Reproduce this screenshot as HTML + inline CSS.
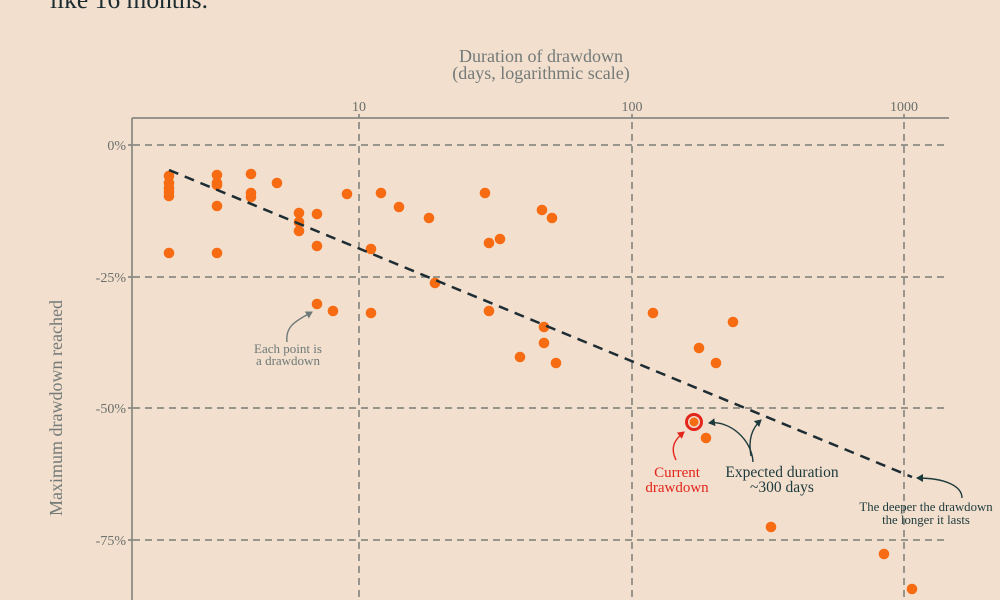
<!DOCTYPE html>
<html><head><meta charset="utf-8"><style>
html,body{margin:0;padding:0;background:#f2dfce;}
svg{display:block;font-family:"Liberation Serif",serif;}
</style></head><body>
<svg width="1000" height="600" viewBox="0 0 1000 600" xmlns="http://www.w3.org/2000/svg">
<rect width="1000" height="600" fill="#f2dfce"/>
<text x="50" y="8" font-size="25.5" fill="#1b2a2f">like 16 months.</text>
<text x="541" y="62" font-size="18" fill="#737a78" text-anchor="middle">Duration of drawdown</text>
<text x="541" y="79" font-size="18" fill="#737a78" text-anchor="middle">(days, logarithmic scale)</text>
<text transform="translate(62,408) rotate(-90)" font-size="18" fill="#737a78" text-anchor="middle">Maximum drawdown reached</text>
<g font-size="14" fill="#6b706b" text-anchor="middle">
<text x="359" y="111">10</text><text x="632" y="111">100</text><text x="904" y="111">1000</text>
</g>
<g font-size="14" fill="#6b706b" text-anchor="end">
<text x="126" y="150">0%</text><text x="126" y="282">-25%</text><text x="126" y="413">-50%</text><text x="126" y="545">-75%</text>
</g>
<g stroke="#7b7d76" stroke-width="1.5" fill="none">
<path d="M132 118H949M132 118V600"/>
<path d="M128 145H132M128 277H132M128 408H132M128 540H132M359 114V118M632 114V118M904 114V118"/>
<g stroke-dasharray="7 5">
<path d="M133 145H949M133 277H949M133 408H949M133 540H949"/>
<path d="M359 122V600M632 122V600M904 122V600"/>
</g>
</g>
<g fill="#f76b12">
<circle cx="169" cy="176" r="5.3"/><circle cx="169" cy="183" r="5.3"/><circle cx="169" cy="188" r="5.3"/><circle cx="169" cy="192" r="5.3"/><circle cx="169" cy="196" r="5.3"/><circle cx="169" cy="253" r="5.3"/>
<circle cx="217" cy="175" r="5.3"/><circle cx="217" cy="183" r="5.3"/><circle cx="217" cy="185" r="5.3"/><circle cx="217" cy="206" r="5.3"/><circle cx="217" cy="253" r="5.3"/>
<circle cx="251" cy="174" r="5.3"/><circle cx="251" cy="193" r="5.3"/><circle cx="251" cy="197" r="5.3"/>
<circle cx="277" cy="183" r="5.3"/>
<circle cx="299" cy="213" r="5.3"/><circle cx="299" cy="222" r="5.3"/><circle cx="299" cy="231" r="5.3"/>
<circle cx="317" cy="214" r="5.3"/><circle cx="317" cy="246" r="5.3"/>
<circle cx="347" cy="194" r="5.3"/><circle cx="381" cy="193" r="5.3"/><circle cx="399" cy="207" r="5.3"/><circle cx="371" cy="249" r="5.3"/>
<circle cx="317" cy="304" r="5.3"/><circle cx="333" cy="311" r="5.3"/><circle cx="371" cy="313" r="5.3"/>
<circle cx="429" cy="218" r="5.3"/><circle cx="485" cy="193" r="5.3"/><circle cx="542" cy="210" r="5.3"/><circle cx="552" cy="218" r="5.3"/>
<circle cx="489" cy="243" r="5.3"/><circle cx="500" cy="239" r="5.3"/><circle cx="435" cy="283" r="5.3"/>
<circle cx="489" cy="311" r="5.3"/><circle cx="544" cy="327" r="5.3"/><circle cx="544" cy="343" r="5.3"/><circle cx="520" cy="357" r="5.3"/><circle cx="556" cy="363" r="5.3"/>
<circle cx="653" cy="313" r="5.3"/><circle cx="733" cy="322" r="5.3"/><circle cx="699" cy="348" r="5.3"/><circle cx="716" cy="363" r="5.3"/>
<circle cx="706" cy="438" r="5.3"/><circle cx="771" cy="527" r="5.3"/><circle cx="884" cy="554" r="5.3"/><circle cx="912" cy="589" r="5.3"/>
</g>
<circle cx="694" cy="422" r="7.5" fill="#f2dfce" stroke="#e3261c" stroke-width="3"/>
<circle cx="694" cy="422" r="4.5" fill="#f76b12"/>
<path d="M169 170L912 477" stroke="#1e2d33" stroke-width="2.5" stroke-dasharray="10 7" fill="none"/>
<defs>
<marker id="ag" markerWidth="8" markerHeight="8" refX="6" refY="4" orient="auto" markerUnits="userSpaceOnUse"><path d="M0 0L7 4L0 8Z" fill="#6e7a78"/></marker>
<marker id="ar" markerWidth="8" markerHeight="8" refX="6" refY="4" orient="auto" markerUnits="userSpaceOnUse"><path d="M0 0L7 4L0 8Z" fill="#e3261c"/></marker>
<marker id="ad" markerWidth="8" markerHeight="8" refX="6" refY="4" orient="auto" markerUnits="userSpaceOnUse"><path d="M0 0L7 4L0 8Z" fill="#1d3a3d"/></marker>
</defs>
<g fill="none" stroke-width="1.4">
<path d="M287 342C285 325 298 320 312 312" stroke="#6e7a78" marker-end="url(#ag)"/>
<path d="M676 460C670 448 674 440 684 432" stroke="#e3261c" marker-end="url(#ar)"/>
<path d="M753 462C752 440 730 420 709 423" stroke="#1d3a3d" marker-end="url(#ad)"/>
<path d="M751 456C748 440 752 428 761 420" stroke="#1d3a3d" marker-end="url(#ad)"/>
<path d="M962 498C962 486 945 478 917 478" stroke="#1d3a3d" marker-end="url(#ad)"/>
</g>
<g font-size="13" fill="#6e7a78" text-anchor="middle">
<text x="288" y="353">Each point is</text><text x="288" y="365">a drawdown</text>
</g>
<g font-size="15" fill="#e3261c" text-anchor="middle">
<text x="677" y="477">Current</text><text x="677" y="492">drawdown</text>
</g>
<g font-size="15.5" fill="#1d3a3d" text-anchor="middle">
<text x="782" y="477">Expected duration</text><text x="782" y="492">~300 days</text>
</g>
<g font-size="12.8" fill="#1d3a3d" text-anchor="middle">
<text x="926" y="511">The deeper the drawdown</text><text x="926" y="524">the longer it lasts</text>
</g>
</svg>
</body></html>
